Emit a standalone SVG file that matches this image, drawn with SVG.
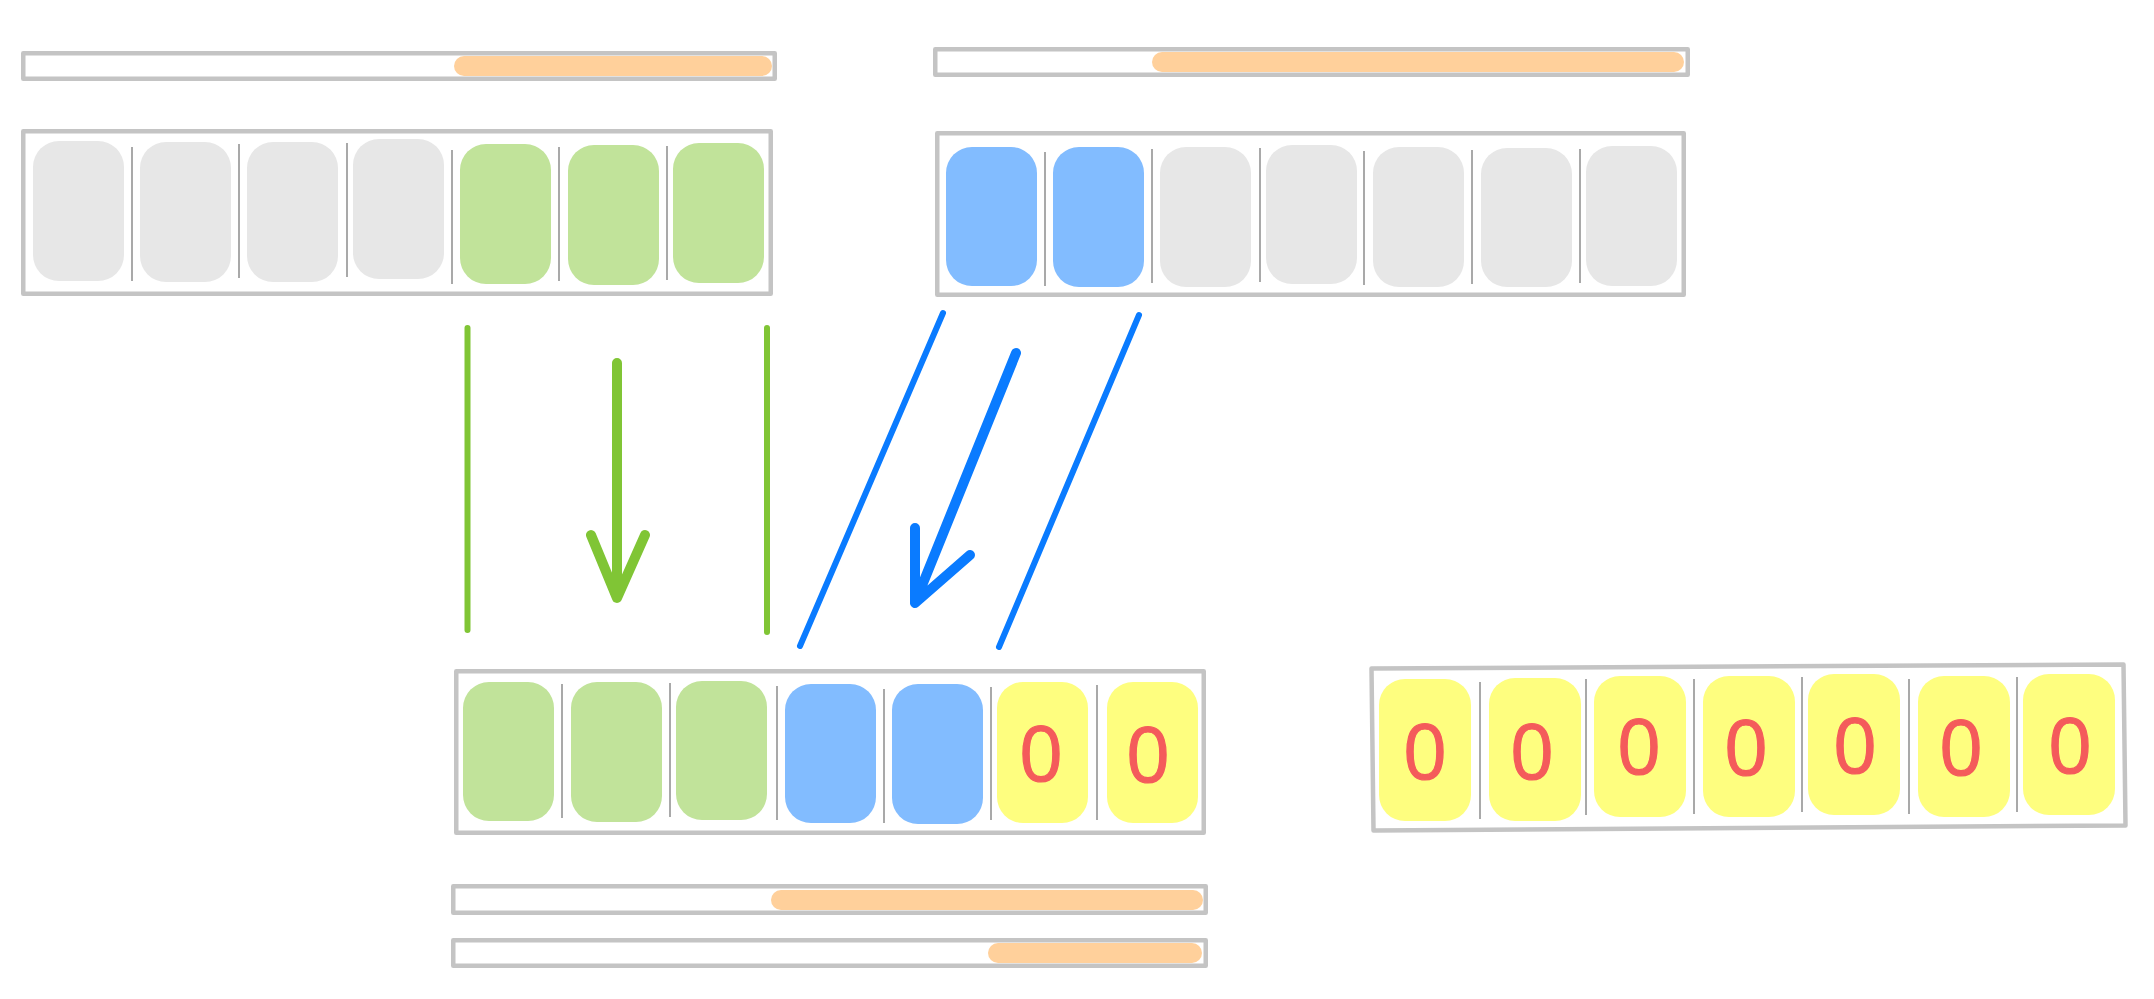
<svg xmlns="http://www.w3.org/2000/svg" width="2154" height="999" viewBox="0 0 2154 999">
<style>
.frame{fill:#fff;stroke:#c4c4c4;stroke-width:4.5;stroke-linejoin:round}
.pill{fill:#ffd09b}
.c{rx:26px;ry:26px}
.gy{fill:#e7e7e7}.gn{fill:#c1e39a}.bu{fill:#82bcff}.ye{fill:#fefe7f}
.dv{stroke:#a0a0a0;stroke-width:1.8}
.zero{font-family:"Open Sans","Noto Sans",sans-serif;font-size:77px;fill:#f45b5b;stroke:#f45b5b;stroke-width:1.2;text-anchor:middle}
.gl{stroke:#80c535;fill:none;stroke-linecap:round;stroke-linejoin:round}
.bl{stroke:#0a7bff;fill:none;stroke-linecap:round;stroke-linejoin:round}
</style>
<rect width="2154" height="999" fill="#fff"/>

<g id="bar-top-left">
<rect class="frame" x="23.25" y="53.25" width="751.5" height="25.5"/>
<rect class="pill" x="454" y="56" width="318" height="20" rx="10"/>
</g>

<g id="bar-top-right">
<rect class="frame" x="935.25" y="49.25" width="752.5" height="25.5"/>
<rect class="pill" x="1152" y="52" width="532" height="20" rx="10"/>
</g>

<g id="array-top-left">
<rect class="frame" x="23.25" y="131.25" width="747.5" height="162.5"/>
<rect class="c gy" x="33" y="141" width="91" height="140"/>
<rect class="c gy" x="140" y="142" width="91" height="140"/>
<rect class="c gy" x="247" y="142" width="91" height="140"/>
<rect class="c gy" x="353" y="139" width="91" height="140"/>
<rect class="c gn" x="460" y="144" width="91" height="140"/>
<rect class="c gn" x="568" y="145" width="91" height="140"/>
<rect class="c gn" x="673" y="143" width="91" height="140"/>
<path class="dv" d="M132 147V281M239 144V278M347 143V277M452 150V284M559 147V281M667 146V280"/>
</g>

<g id="array-top-right">
<rect class="frame" x="937.25" y="133.25" width="746.5" height="161.5"/>
<rect class="c bu" x="946" y="147" width="91" height="139"/>
<rect class="c bu" x="1053" y="147" width="91" height="140"/>
<rect class="c gy" x="1160" y="147" width="91" height="140"/>
<rect class="c gy" x="1266" y="145" width="91" height="139"/>
<rect class="c gy" x="1373" y="147" width="91" height="140"/>
<rect class="c gy" x="1481" y="148" width="91" height="139"/>
<rect class="c gy" x="1586" y="146" width="91" height="140"/>
<path class="dv" d="M1045 152V286M1152 149V283M1260 148V282M1364 151V285M1472 150V284M1580 149V283"/>
</g>

<g id="array-middle">
<rect class="frame" x="456.25" y="671.25" width="747.5" height="161.5"/>
<rect class="c gn" x="463" y="682" width="91" height="139"/>
<rect class="c gn" x="571" y="682" width="91" height="140"/>
<rect class="c gn" x="676" y="681" width="91" height="139"/>
<rect class="c bu" x="785" y="684" width="91" height="139"/>
<rect class="c bu" x="892" y="684" width="91" height="140"/>
<rect class="c ye" x="997" y="682" width="91" height="141"/>
<rect class="c ye" x="1107" y="682" width="91" height="141"/>
<path class="dv" d="M562 684V818M670 683V817M777 686V820M884 689V823M991 687V820M1097 685V820"/>
<text class="zero" x="1041" y="781">0</text>
<text class="zero" x="1148" y="782">0</text>
</g>

<g id="array-right">
<polygon class="frame" points="1371.5,668.5 2123.5,664.5 2125.5,825.5 1373.5,830.5"/>
<rect class="c ye" x="1379" y="679" width="92" height="142"/>
<rect class="c ye" x="1489" y="678" width="92" height="143"/>
<rect class="c ye" x="1594" y="676" width="92" height="141"/>
<rect class="c ye" x="1703" y="676" width="92" height="141"/>
<rect class="c ye" x="1808" y="674" width="92" height="141"/>
<rect class="c ye" x="1918" y="676" width="92" height="141"/>
<rect class="c ye" x="2023" y="674" width="92" height="141"/>
<path class="dv" d="M1480 682V819M1586 679V815M1694 679V814M1802 677V812M1909 679V814M2017 677V812"/>
<text class="zero" x="1425" y="779">0</text>
<text class="zero" x="1532" y="779">0</text>
<text class="zero" x="1639" y="774">0</text>
<text class="zero" x="1746" y="775">0</text>
<text class="zero" x="1855" y="773">0</text>
<text class="zero" x="1961" y="775">0</text>
<text class="zero" x="2070" y="773">0</text>
</g>

<g id="bar-bottom-1">
<rect class="frame" x="453.25" y="886.25" width="752.5" height="26.5"/>
<rect class="pill" x="771" y="890" width="432" height="20" rx="10"/>
</g>

<g id="bar-bottom-2">
<rect class="frame" x="453.25" y="940.25" width="752.5" height="25.5"/>
<rect class="pill" x="988" y="943" width="214" height="20" rx="10"/>
</g>

<g id="connectors">
<path class="gl" stroke-width="6" d="M467.5 328V630"/>
<path class="gl" stroke-width="6" d="M767 328V632"/>
<path class="gl" stroke-width="10" d="M617 363V598M591 535L617 598L645 535"/>
<path class="bl" stroke-width="6" d="M943 313L800 646"/>
<path class="bl" stroke-width="10" d="M1016 353L915 603M915 528V603L970 555"/>
<path class="bl" stroke-width="6" d="M1139 315L999 647"/>
</g>
</svg>
